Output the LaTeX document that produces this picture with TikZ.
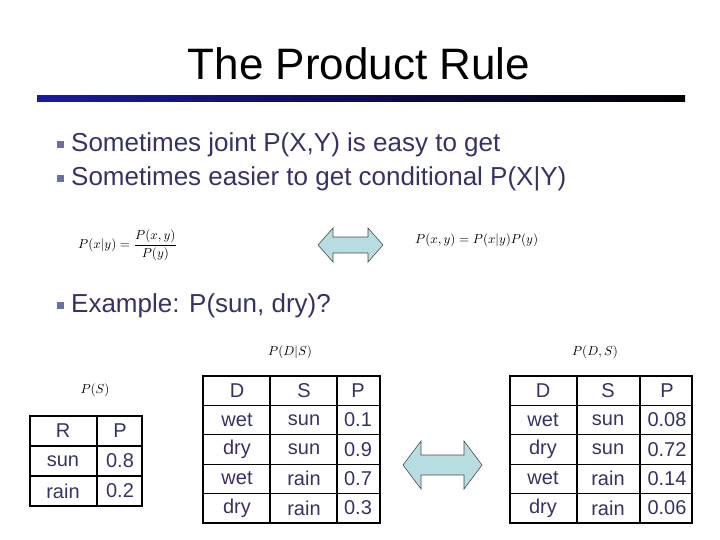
\documentclass[tikz,border=0pt]{standalone}
\usepackage{fontspec}
\setmainfont{Liberation Sans}
\definecolor{navy}{HTML}{333366}
\definecolor{bul}{HTML}{6E6EA6}
\definecolor{arr}{HTML}{B7DDE0}
\begin{document}
\begin{tikzpicture}[x=1pt,y=-1pt,
  txt/.style={text=navy,font=\fontsize{26}{30}\selectfont,anchor=west,inner sep=0},
  cell/.style={text=navy,font=\fontsize{20}{24}\selectfont,inner sep=0},
  mth/.style={inner sep=0},
  tbl/.style={line width=1.8pt},
  dblarrow/.style={fill=arr,draw=black!70,line width=0.6pt}]
\useasboundingbox (0,0) rectangle (720,540);
\node[inner sep=0,font=\fontsize{44}{50}\selectfont] (title) at (359,64) {The Product Rule};
\shade[left color=blue!60!black!90,right color=black] (37,96) rectangle (685,102);
\foreach \y/\t [count=\i] in {145/{Sometimes joint P(X,Y) is easy to get},179/{Sometimes easier to get conditional P(X|Y)},306/{Example: P(sun, dry)?}}{
  \fill[bul] (57,\y-4) rectangle (64,\y+3);
  \node[txt] (b\i) at (71,\y) {\t};
}
\node[mth,anchor=west] (eq1) at (78,245) {\scalebox{1.3}{$\displaystyle P(x|y)=\frac{P(x,y)}{P(y)}$}};
\node[mth,anchor=west] (eq2) at (415,240) {\scalebox{1.3}{$P(x,y)=P(x|y)P(y)$}};
\draw[dblarrow] (318,245)--(333,228)--(333,237)--(368,237)--(368,228)--(383,245)--(368,262)--(368,253)--(333,253)--(333,262)--cycle;
\draw[dblarrow] (403,465)--(421,441)--(421,455)--(464,455)--(464,441)--(482,465)--(464,489)--(464,475)--(421,475)--(421,489)--cycle;
% P(S)
\node[mth] (ls) at (95,390) {\scalebox{1.3}{$P(S)$}};
\draw[tbl] (30,416) rectangle (142,506);
\foreach \y in {446,476} \draw[line width=1.2pt] (30,\y)--(142,\y);
\draw[line width=1.2pt] (97,416)--(97,506);
\foreach \a/\b [count=\r] in {R/P,sun/0.8,rain/0.2}{
  \node[cell] (sa\r) at (63,401+30*\r) {\a};
  \node[cell] (sb\r) at (120,401+30*\r) {\b};
}
% P(D|S)
\node[mth] (ldc) at (290,352) {\scalebox{1.3}{$P(D|S)$}};
\draw[tbl] (203,376) rectangle (380,523);
\foreach \y in {405.4,434.8,464.2,493.6} \draw[line width=1.2pt] (203,\y)--(380,\y);
\draw[line width=1.2pt] (270,376)--(270,523) (337,376)--(337,523);
\foreach \a/\b/\c [count=\r] in {D/S/P,wet/sun/0.1,dry/sun/0.9,wet/rain/0.7,dry/rain/0.3}{
  \node[cell] (ca\r) at (237,361+29.4*\r) {\a};
  \node[cell] (cb\r) at (304,361+29.4*\r) {\b};
  \node[cell] (cc\r) at (358,361+29.4*\r) {\c};
}
% P(D,S)
\node[mth] (lj) at (595,352) {\scalebox{1.3}{$P(D,S)$}};
\draw[tbl] (510,376) rectangle (692,523);
\foreach \y in {405.4,434.8,464.2,493.6} \draw[line width=1.2pt] (510,\y)--(692,\y);
\draw[line width=1.2pt] (577,376)--(577,523) (640,376)--(640,523);
\foreach \a/\b/\c [count=\r] in {D/S/P,wet/sun/0.08,dry/sun/0.72,wet/rain/0.14,dry/rain/0.06}{
  \node[cell] (ja\r) at (543,361+29.4*\r) {\a};
  \node[cell] (jb\r) at (608,361+29.4*\r) {\b};
  \node[cell] (jc\r) at (667,361+29.4*\r) {\c};
}
\end{tikzpicture}
\end{document}
